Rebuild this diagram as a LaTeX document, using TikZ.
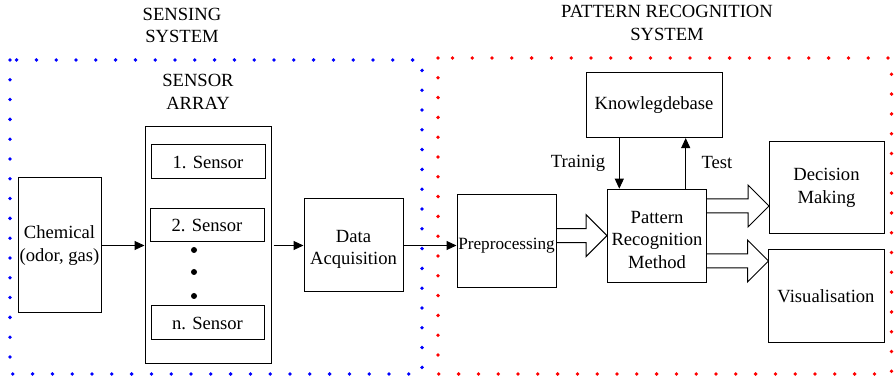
\documentclass[tikz,border=0pt]{standalone}
\usepackage{fontspec}
\setmainfont{Liberation Serif}
\usetikzlibrary{calc,arrows.meta}
\definecolor{sensblue}{HTML}{0000FF}
\definecolor{pattred}{HTML}{FF0000}
\tikzset{
  blk/.style={draw, line width=1pt, inner sep=1pt, align=center},
  lab/.style={align=center},
  low/.style={label={[lab, yshift=-4pt]center:{#1}}},
  con/.style={line width=1pt, -{Triangle[length=10pt,width=9pt]}},
  fatarr/.style={draw, line width=1pt, line join=miter},
  dotframe/.style={line width=3.8pt, line cap=round, dash pattern=on 0pt off 19.8pt}
}
% hollow block arrow from the x of #1 to the tip #2
\newcommand{\fatarrow}[2]{%
  \draw[fatarr] let \p1=(#1), \p2=(#2) in
    (\x1,\y2+7pt) -- (\x2-21pt,\y2+7pt) -- (\x2-21pt,\y2+21pt) -- (\x2,\y2)
    -- (\x2-21pt,\y2-21pt) -- (\x2-21pt,\y2-7pt) -- (\x1,\y2-7pt);}

\begin{document}
\begin{tikzpicture}[x=1pt, y=-1pt, font=\fontsize{18.6}{22.5}\selectfont]
  \useasboundingbox (0,0) rectangle (895,379);

  % dotted frames
  \draw[dotframe, sensblue] (10,60) rectangle (422,374);
  \draw[dotframe, pattred] (438,58) rectangle (891.5,374);

  \node[lab] (senstitle) at (182,25.5) {SENSING\\SYSTEM};
  \node[lab] (patttitle) at (667,23) {PATTERN RECOGNITION\\SYSTEM};
  \node[lab] (arrtitle) at (198,92) {SENSOR\\ARRAY};

  % sensing part
  \node[blk, minimum width=83pt, minimum height=135pt, inner sep=0pt] (chem) at (59.5,245.5) {Chemical\\(odor, gas)};
  \node[blk, minimum width=126pt, minimum height=237pt] (arr) at (208,245.5) {};
  \node[blk, minimum width=114pt, minimum height=34pt] (s1) at (208,162) {1. Sensor};
  \node[blk, minimum width=114pt, minimum height=33pt] (s2) at (207,225.5) {2. Sensor};
  \node[blk, minimum width=113pt, minimum height=34pt] (sn) at (207.5,323) {n. Sensor};
  \foreach \yy in {250,272,296}
    \fill (194,\yy) circle (3pt);
  \node[blk, minimum width=99pt, minimum height=93pt,
        low={Data\\Acquisition}] (daq) at (353.5,245.5) {};

  % pattern recognition part
  \node[blk, minimum width=99pt, minimum height=93pt,
        low={\fontsize{17.2}{20}\selectfont Preprocessing}] (pre) at (506.5,241.5) {};
  \node[blk, minimum width=99pt, minimum height=93pt,
        low={Pattern\\Recognition\\Method}] (prm) at (657,235.7) {};
  \node[blk, minimum width=136pt, minimum height=65.5pt] (kb) at (654,104.8) {Knowlegdebase};
  \node[blk, minimum width=115pt, minimum height=92pt] (dm) at (826.5,188) {Decision\\Making};
  \node[blk, minimum width=116pt, minimum height=93pt] (vis) at (826,296.5) {Visualisation};

  \node[lab] (trlab) at (578,163) {Trainig};
  \node[lab] (telab) at (717,163) {Test};

  % connectors
  \draw[con] (chem.east) -- (arr.west);
  \draw[con] ($(arr.east)+(2,0)$) -- (daq.west);
  \draw[con] (daq.east) -- (daq.east -| pre.west);

  \coordinate (trx) at (619.3,0);
  \coordinate (tex) at (685.7,0);
  \draw[con] (kb.south -| trx) -- (prm.north -| trx);
  \draw[con] (prm.north -| tex) -- (kb.south -| tex);

  \coordinate (todm) at (769,206);
  \coordinate (tovis) at (768.5,261);
  \fatarrow{pre.east}{prm.west}
  \fatarrow{prm.east}{todm}
  \fatarrow{prm.east}{tovis}
\end{tikzpicture}
\end{document}
